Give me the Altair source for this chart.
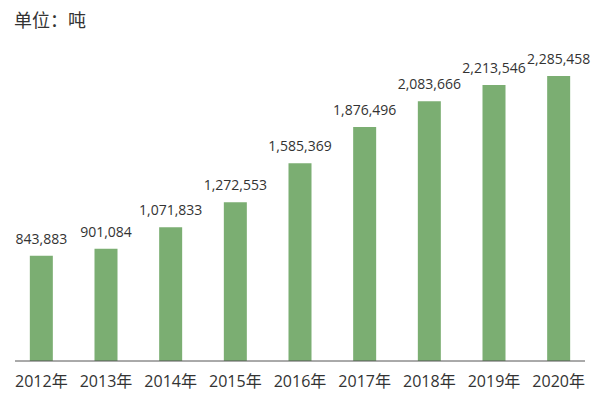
import altair as alt
import pandas as pd

years = ["2012年", "2013年", "2014年", "2015年", "2016年", "2017年", "2018年", "2019年", "2020年"]
values = [843883, 901084, 1071833, 1272553, 1585369, 1876496, 2083666, 2213546, 2285458]
unit_title = "单位：吨"

df = pd.DataFrame({"year": years, "value": values})
FONT = "Open Sans, Noto Sans CJK SC, sans-serif"

x = alt.X("year:N", sort=years, title=None,
          scale=alt.Scale(paddingInner=0.64, paddingOuter=0.32),
          axis=alt.Axis(labelAngle=0, ticks=False, domain=False, labelPadding=12,
                        labelFontSize=16, labelColor="#333333", labelFont=FONT))
y = alt.Y("value:Q", scale=alt.Scale(domain=[0, 2790700], nice=False, zero=True), axis=None)

base = alt.Chart(df)
bars = base.mark_bar(color="#7bae72", size=23).encode(x=x, y=y)
labels = base.mark_text(baseline="alphabetic", dy=-12, fontSize=14, color="#333333", font=FONT).encode(
    x=x, y=y, text=alt.Text("value:Q", format=",")
)
baseline = alt.Chart(pd.DataFrame({"a": [0]})).mark_rule(color="#555555", strokeWidth=1).encode(
    x=alt.value(6), x2=alt.value(576), y=alt.value(348)
)
title = alt.Chart(pd.DataFrame({"t": [unit_title]})).mark_text(
    align="left", baseline="middle", fontSize=18, color="#333333", font=FONT
).encode(x=alt.value(5), y=alt.value(8.5), text="t:N")

chart = alt.layer(bars, labels, baseline, title).properties(
    width=582, height=348, padding={"left": 1, "top": 4, "right": 0, "bottom": 2}
).configure_view(stroke=None)

chart.save("out.html", embed_options={"renderer": "svg", "actions": False})
